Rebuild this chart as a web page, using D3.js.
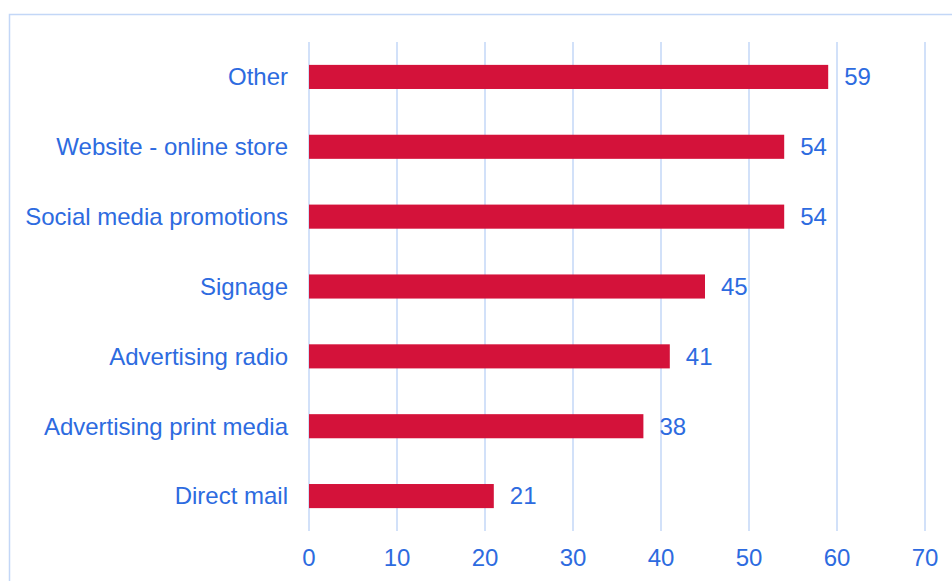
<!DOCTYPE html>
<html>
<head>
<meta charset="utf-8">
<script src="https://cdn.jsdelivr.net/npm/d3@7"></script>
<style>
  body { margin: 0; background: #fff; }
  text { font-family: "Liberation Sans", Arial, sans-serif; }
</style>
</head>
<body>
<svg width="952" height="581"></svg>
<script>
const categories = ["Other", "Website - online store", "Social media promotions", "Signage",
    "Advertising radio", "Advertising print media", "Direct mail"];
const values = [59, 54, 54, 45, 41, 38, 21];
const xTicks = [0, 10, 20, 30, 40, 50, 60, 70];

const svg = d3.select("svg");
const textColor = "#2d6be0";
const gridColor = "#c3d7f7";

// outer frame (top + left edges visible)
svg.append("path")
    .attr("d", "M9.5,600 V14.5 H960")
    .attr("fill", "none")
    .attr("stroke", gridColor)
    .attr("stroke-width", 1.5);

const x = d3.scaleLinear().domain([0, 70]).range([309, 925]);
const y = d3.scaleBand().domain(categories).range([42, 531])
    .paddingInner(0.655).paddingOuter(0.3275);

// grid lines
svg.append("g").selectAll("line")
    .data(xTicks)
    .join("line")
    .attr("x1", d => x(d)).attr("x2", d => x(d))
    .attr("y1", 42).attr("y2", 531)
    .attr("stroke", gridColor)
    .attr("stroke-width", 1.5);

// x tick labels
svg.append("g").selectAll("text")
    .data(xTicks)
    .join("text")
    .attr("x", d => x(d))
    .attr("y", 558)
    .attr("dy", "0.35em")
    .attr("text-anchor", "middle")
    .attr("fill", textColor)
    .attr("font-size", 24)
    .text(d => d);

// category labels
svg.append("g").selectAll("text")
    .data(categories)
    .join("text")
    .attr("x", 288)
    .attr("y", d => y(d) + y.bandwidth() / 2)
    .attr("dy", "0.35em")
    .attr("text-anchor", "end")
    .attr("fill", textColor)
    .attr("font-size", 24)
    .text(d => d);

// bars
svg.append("g").selectAll("rect")
    .data(values)
    .join("rect")
    .attr("x", x(0))
    .attr("y", (d, i) => y(categories[i]))
    .attr("width", d => x(d) - x(0))
    .attr("height", y.bandwidth())
    .attr("fill", "#d4123a");

// value labels
svg.append("g").selectAll("text")
    .data(values)
    .join("text")
    .attr("x", d => x(d) + 16)
    .attr("y", (d, i) => y(categories[i]) + y.bandwidth() / 2)
    .attr("dy", "0.35em")
    .attr("fill", textColor)
    .attr("font-size", 24)
    .text(d => d);
</script>
</body>
</html>
